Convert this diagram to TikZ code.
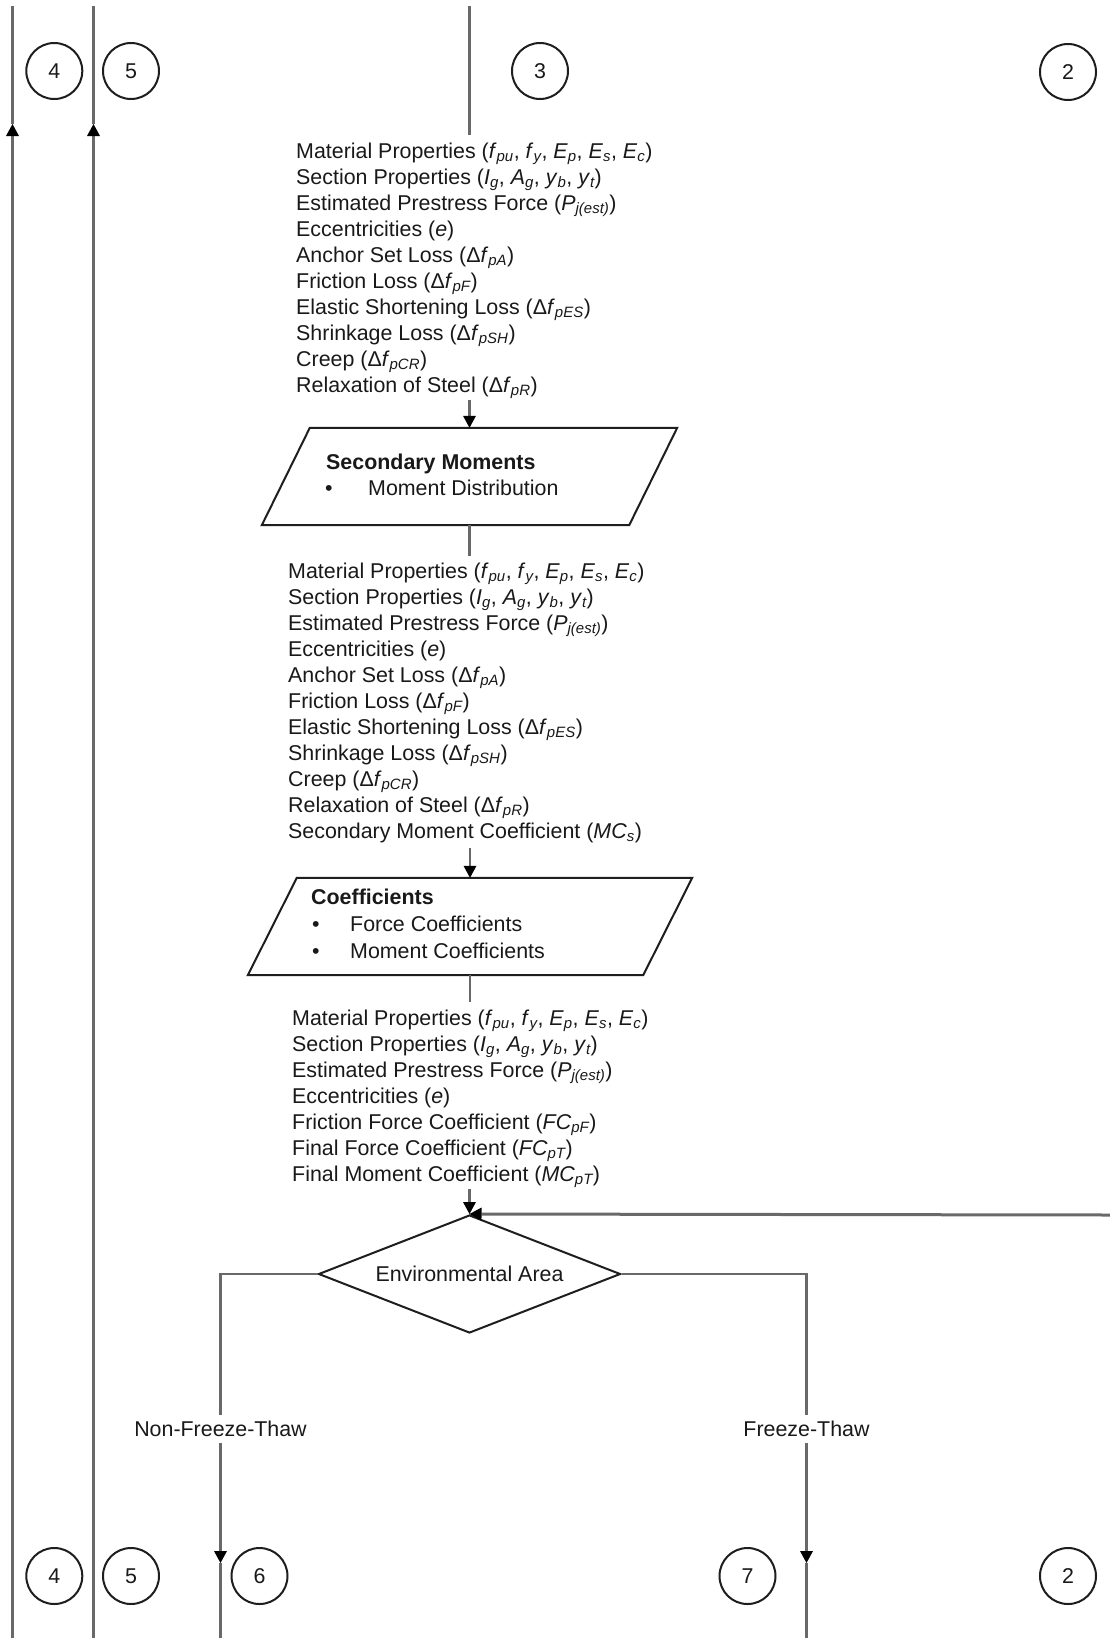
\documentclass[tikz,border=0pt]{standalone}
\usepackage{fontspec}
\setmainfont{Liberation Sans}
\usetikzlibrary{arrows.meta,shapes.geometric,calc}

\definecolor{ink}{RGB}{25,25,25}
\definecolor{wire}{RGB}{105,105,105}
\definecolor{edge}{RGB}{30,30,30}

\newcommand{\bodyfont}{\fontsize{21.4}{26}\selectfont}
\newcommand{\sbs}[1]{\textsubscript{\itshape #1}}
\newcommand{\vr}[1]{\textit{#1}}

\tikzset{
  every node/.style={text=ink, font=\bodyfont, inner sep=0pt},
  conn/.style={draw=wire, line width=2.5pt},
  arrowend/.style={-{Triangle[length=12pt,width=13pt,color=black,line width=0pt]}},
  shapeedge/.style={draw=edge, line width=2pt, line join=miter},
  conncircle/.style={circle, draw=edge, line width=2pt, minimum size=56pt, inner sep=0pt},
  listblock/.style={anchor=base west},
  branchlbl/.style={inner xsep=0pt, inner ysep=6.3pt, text height=15.4pt, text depth=0pt},
}

\begin{document}
\begin{tikzpicture}[x=1pt, y=-1pt]
  % page frame
  \fill[white] (0,0) rectangle (1109,1638);
  \useasboundingbox (0,0) rectangle (1109,1638);

  % off-page connectors, top row
  \node[conncircle] (c4t) at (54.3,71) {4};
  \node[conncircle] (c5t) at (131,71) {5};
  \node[conncircle] (c3t) at (540,71) {3};
  \node[conncircle] (c2t) at (1068,72) {2};

  % off-page connectors, bottom row
  \node[conncircle] (c4b) at (54.3,1576) {4};
  \node[conncircle] (c5b) at (131,1576) {5};
  \node[conncircle] (c6b) at (259.5,1576) {6};
  \node[conncircle] (c7b) at (747.5,1576) {7};
  \node[conncircle] (c2b) at (1068,1576) {2};

  % input list before secondary moments
  \node[listblock] (blk1) at (296,158) {\begin{tabular}[t]{@{}l@{}}
    Material Properties (\vr{f}\sbs{pu}, \vr{f}\sbs{y}, \vr{E}\sbs{p}, \vr{E}\sbs{s}, \vr{E}\sbs{c})\\
    Section Properties (\vr{I}\sbs{g}, \vr{A}\sbs{g}, \vr{y}\sbs{b}, \vr{y}\sbs{t})\\
    Estimated Prestress Force (\vr{P}\sbs{j(est)})\\
    Eccentricities (\vr{e})\\
    Anchor Set Loss (Δ\vr{f}\sbs{pA})\\
    Friction Loss (Δ\vr{f}\sbs{pF})\\
    Elastic Shortening Loss (Δ\vr{f}\sbs{pES})\\
    Shrinkage Loss (Δ\vr{f}\sbs{pSH})\\
    Creep (Δ\vr{f}\sbs{pCR})\\
    Relaxation of Steel (Δ\vr{f}\sbs{pR})
  \end{tabular}};

  % secondary moments process box
  \node[minimum width=415pt, minimum height=97pt] (secmom) at (469.5,476.5) {};
  \draw[shapeedge] ($(secmom.north west)+(48,0)$) -- (secmom.north east)
    -- ($(secmom.south east)+(-48,0)$) -- (secmom.south west) -- cycle;
  \node[anchor=base west, font=\bodyfont\bfseries] (secmomt) at (326,469) {Secondary Moments};
  \node[anchor=base west] (secmomb) at (325,495) {\makebox[43pt][l]{•}Moment Distribution};

  % input list before coefficients
  \node[listblock] (blk2) at (288,578) {\begin{tabular}[t]{@{}l@{}}
    Material Properties (\vr{f}\sbs{pu}, \vr{f}\sbs{y}, \vr{E}\sbs{p}, \vr{E}\sbs{s}, \vr{E}\sbs{c})\\
    Section Properties (\vr{I}\sbs{g}, \vr{A}\sbs{g}, \vr{y}\sbs{b}, \vr{y}\sbs{t})\\
    Estimated Prestress Force (\vr{P}\sbs{j(est)})\\
    Eccentricities (\vr{e})\\
    Anchor Set Loss (Δ\vr{f}\sbs{pA})\\
    Friction Loss (Δ\vr{f}\sbs{pF})\\
    Elastic Shortening Loss (Δ\vr{f}\sbs{pES})\\
    Shrinkage Loss (Δ\vr{f}\sbs{pSH})\\
    Creep (Δ\vr{f}\sbs{pCR})\\
    Relaxation of Steel (Δ\vr{f}\sbs{pR})\\
    Secondary Moment Coefficient (\vr{MC}\sbs{s})
  \end{tabular}};

  % coefficients process box
  \node[minimum width=444pt, minimum height=97pt] (coef) at (470,926.5) {};
  \draw[shapeedge] ($(coef.north west)+(49,0)$) -- (coef.north east)
    -- ($(coef.south east)+(-49,0)$) -- (coef.south west) -- cycle;
  \node[anchor=base west, font=\bodyfont\bfseries] (coeft) at (311,904) {Coefficients};
  \node[anchor=base west] (coefb1) at (312,931) {\makebox[38pt][l]{•}Force Coefficients};
  \node[anchor=base west] (coefb2) at (312,958) {\makebox[38pt][l]{•}Moment Coefficients};

  % input list before the environment decision
  \node[listblock] (blk3) at (292,1025) {\begin{tabular}[t]{@{}l@{}}
    Material Properties (\vr{f}\sbs{pu}, \vr{f}\sbs{y}, \vr{E}\sbs{p}, \vr{E}\sbs{s}, \vr{E}\sbs{c})\\
    Section Properties (\vr{I}\sbs{g}, \vr{A}\sbs{g}, \vr{y}\sbs{b}, \vr{y}\sbs{t})\\
    Estimated Prestress Force (\vr{P}\sbs{j(est)})\\
    Eccentricities (\vr{e})\\
    Friction Force Coefficient (\vr{FC}\sbs{pF})\\
    Final Force Coefficient (\vr{FC}\sbs{pT})\\
    Final Moment Coefficient (\vr{MC}\sbs{pT})
  \end{tabular}};

  % decision
  \node[diamond, shapeedge, aspect=2.56, minimum width=302pt, minimum height=118pt] (env)
    at (469.5,1274) {Environmental Area};

  % branch labels
  \node[branchlbl] (nft) at (220.5,1429) {Non-Freeze-Thaw};
  \node[branchlbl] (ft) at (806.5,1429) {Freeze-Thaw};

  % free ends of the connectors
  \coordinate (l1top) at (12.5,6);
  \coordinate (l1tip) at (12.5,124);
  \coordinate (l1end) at (12.5,1640);
  \coordinate (l2top) at (93.5,6);
  \coordinate (l2tip) at (93.5,124);
  \coordinate (l2end) at (93.5,1640);
  \coordinate (inflow) at (469.5,6);
  \coordinate (feedback) at (1112,1215);
  \coordinate (nftip) at (220.5,1563);
  \coordinate (nfend) at (220.5,1640);
  \coordinate (fttip) at (806.5,1563);
  \coordinate (ftend) at (806.5,1640);

  % pass-through lines on the left
  \draw[conn, arrowend] (l1end) -- (l1tip);
  \draw[conn] (l1tip) -- (l1top);
  \draw[conn, arrowend] (l2end) -- (l2tip);
  \draw[conn] (l2tip) -- (l2top);

  % main flow
  \draw[conn] (inflow) -- ($(blk1.north -| inflow)+(0,-5)$);
  \draw[conn, arrowend] (secmom.north |- blk1.south) -- (secmom.north);
  \draw[conn] (secmom.south) -- ($(blk2.north -| secmom.south)+(0,-4)$);
  \draw[conn, arrowend] ($(coef.north |- blk2.south)+(0,2)$) -- (coef.north);
  \draw[conn] (coef.south) -- ($(blk3.north -| coef.south)+(0,-5)$);
  \draw[conn, arrowend] (env.north |- blk3.south) -- (env.north);
  \draw[conn, line width=3pt, arrowend] (feedback) -- (env.north);

  % branches
  \draw[conn] (env.west) -| (nft.north);
  \draw[conn, arrowend] (nft.south) -- (nftip);
  \draw[conn] (nftip) -- (nfend);
  \draw[conn] (env.east) -| (ft.north);
  \draw[conn, arrowend] (ft.south) -- (fttip);
  \draw[conn] (fttip) -- (ftend);
\end{tikzpicture}
\end{document}
